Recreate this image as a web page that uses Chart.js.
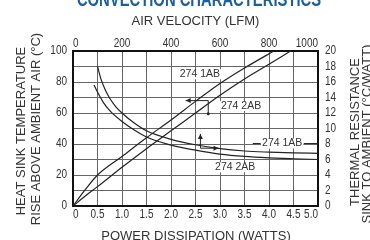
<!DOCTYPE html>
<html>
<head>
<meta charset="utf-8">
<script src="https://cdn.jsdelivr.net/npm/chart.js@4.4.0/dist/chart.umd.min.js"></script>
<style>
  html, body { margin: 0; padding: 0; background: #fff; }
  #wrap { width: 370px; height: 240px; position: relative; }
</style>
</head>
<body>
<div id="wrap"><canvas id="chart"></canvas></div>
<script>
// --- temperature rise vs power dissipation (bottom + left axes) ---
const power1AB = [0, 0.25, 0.5, 1.0, 1.5, 2.0, 2.5, 3.0, 3.5, 4.1];
const temp1AB = [0, 10.5, 20, 32, 44, 55.5, 67.5, 79, 89, 100];
const power2AB = [0, 0.25, 0.5, 1.0, 1.5, 2.0, 2.5, 3.0, 3.5, 4.0, 4.44];
const temp2AB = [0, 6.5, 12.5, 25, 37, 48.5, 60, 71.5, 82, 91.5, 100];

// --- thermal resistance vs air velocity (top + right axes) ---
const velocity1AB = [100, 115, 130, 150, 175, 200, 250, 300, 400, 500, 600, 700, 800, 900, 1000];
const resist1AB = [18, 16.3, 15.1, 13.9, 12.8, 12.0, 10.7, 9.7, 8.6, 7.9, 7.4, 7.1, 6.95, 6.85, 6.8];
const velocity2AB = [86, 100, 125, 150, 200, 250, 300, 400, 500, 600, 700, 800, 900, 1000];
const resist2AB = [15.6, 14.7, 13.3, 12.3, 10.9, 9.8, 8.9, 7.85, 7.2, 6.7, 6.4, 6.22, 6.1, 6.0];

// --- tick labels ---
const powerLabels = ["0", "0.5", "1.0", "1.5", "2.0", "2.5", "3.0", "3.5", "4.0", "4.5", "5.0"];
const velocityLabels = ["0", "200", "400", "600", "800", "1000"];
const tempLabels = ["0", "20", "40", "60", "80", "100"];
const resistLabels = ["0", "2", "4", "6", "8", "10", "12", "14", "16", "18", "20"];

const toXY = (xs, ys) => xs.map((x, i) => ({ x, y: ys[i] }));

const SANS = '"Liberation Sans", Arial, sans-serif';
const INK = "#222";
const TXT = "#333";
const SQUEEZE = 0.8; // the original uses a condensed face

// --- titles, tick labels, axis names and the in-plot annotations ---
const decorations = {
    id: "decorations",
    afterDatasetsDraw(chart) {
        const { ctx } = chart;
        const { x: xs, y: ys, x2: xt, y2: yr } = chart.scales;
        const px = (w) => xs.getPixelForValue(w);
        const py = (t) => ys.getPixelForValue(t);

        const narrow = (text, x, y, align, sx = SQUEEZE) => {
            ctx.save();
            ctx.translate(x, y);
            ctx.scale(sx, 1);
            ctx.textAlign = align;
            ctx.fillText(text, 0, 0);
            ctx.restore();
        };
        const vtext = (text, x, y) => {
            ctx.save();
            ctx.translate(x, y);
            ctx.rotate(-Math.PI / 2);
            ctx.textAlign = "center";
            ctx.textBaseline = "middle";
            ctx.fillText(text, 0, 0);
            ctx.restore();
        };
        const label = (text, x, y) => {
            ctx.font = `10.5px ${SANS}`;
            const w = ctx.measureText(text).width;
            ctx.fillStyle = "#fff";
            ctx.fillRect(x - w / 2 - 1, y - 5, w + 2, 10);
            ctx.fillStyle = TXT;
            ctx.textAlign = "center";
            ctx.textBaseline = "middle";
            ctx.fillText(text, x, y);
        };
        const line = (x1, y1, x2, y2) => {
            ctx.beginPath();
            ctx.moveTo(x1, y1);
            ctx.lineTo(x2, y2);
            ctx.stroke();
        };
        const head = (x, y, dir) => {
            const L = 5, H = 2.5;
            ctx.beginPath();
            if (dir === "l") { ctx.moveTo(x, y); ctx.lineTo(x + L, y - H); ctx.lineTo(x + L, y + H); }
            if (dir === "r") { ctx.moveTo(x, y); ctx.lineTo(x - L, y - H); ctx.lineTo(x - L, y + H); }
            if (dir === "u") { ctx.moveTo(x, y); ctx.lineTo(x - H, y + L); ctx.lineTo(x + H, y + L); }
            ctx.closePath();
            ctx.fill();
        };
        const edgeAlign = (i, n) => (i === 0 ? "left" : i === n - 1 ? "right" : "center");

        ctx.save();

        // tick labels
        ctx.fillStyle = TXT;
        ctx.font = `12.5px ${SANS}`;
        ctx.textBaseline = "middle";
        powerLabels.forEach((t, i) => narrow(t, xs.getPixelForValue(i * 0.5), 215, edgeAlign(i, powerLabels.length)));
        velocityLabels.forEach((t, i) => narrow(t, xt.getPixelForValue(i * 200), 43.5, edgeAlign(i, velocityLabels.length)));
        tempLabels.forEach((t, i) => narrow(t, xs.left - 6, ys.getPixelForValue(i * 20), "right"));
        resistLabels.forEach((t, i) => narrow(t, xs.right + 7, yr.getPixelForValue(i * 2), "left"));

        // main title (cut at the top edge)
        ctx.fillStyle = "#1b5e9e";
        ctx.font = `bold 20px ${SANS}`;
        ctx.textBaseline = "alphabetic";
        narrow("CONVECTION CHARACTERISTICS", 199, 6, "center", 0.74);

        // axis names
        ctx.fillStyle = TXT;
        ctx.font = `13px ${SANS}`;
        ctx.textAlign = "center";
        ctx.textBaseline = "middle";
        ctx.fillText("AIR VELOCITY (LFM)", 195.5, 21);
        ctx.textBaseline = "alphabetic";
        ctx.fillText("POWER DISSIPATION (WATTS)", 196, 239.5);
        vtext("HEAT SINK TEMPERATURE", 21, 131);
        vtext("RISE ABOVE AMBIENT AIR (°C)", 36.5, 129);
        vtext("THERMAL RESISTANCE", 355, 132);
        vtext("SINK TO AMBIENT (°C/WATT)", 367, 134);

        // curve labels
        label("274 1AB", px(2.59), py(85));
        label("274 2AB", px(3.43), py(64.5));
        label("274 2AB", px(3.31), py(25));
        label("274 1AB", px(4.27), py(40.3));

        ctx.strokeStyle = INK;
        ctx.fillStyle = INK;
        ctx.lineWidth = 1;

        // leader lines of the right label
        line(px(3.67), py(40.3), px(3.83), py(40.3));
        line(px(4.71), py(40.3), px(5.0), py(40.3));

        // arrow to left / bottom axes
        line(px(2.3), py(68), px(2.76), py(68));
        line(px(2.76), py(68), px(2.76), py(59.5));
        head(px(2.3), py(68), "l");
        ctx.beginPath();
        ctx.arc(px(2.76), py(59.5), 1.5, 0, Math.PI * 2);
        ctx.fill();

        // arrow to top / right axes
        line(px(2.6), py(37.3), px(2.6), py(46.5));
        line(px(2.6), py(37.3), px(2.97), py(37.3));
        head(px(2.6), py(46.5), "u");
        head(px(2.97), py(37.3), "r");

        ctx.restore();
    },
};

const lineStyle = {
    showLine: true,
    borderColor: INK,
    borderWidth: 1.2,
    pointRadius: 0,
    fill: false,
    cubicInterpolationMode: "monotone",
};

const hiddenTicks = { display: false };

new Chart(document.getElementById("chart"), {
    type: "scatter",
    data: {
        datasets: [
            { ...lineStyle, label: "274 1AB temp", data: toXY(power1AB, temp1AB), xAxisID: "x", yAxisID: "y" },
            { ...lineStyle, label: "274 2AB temp", data: toXY(power2AB, temp2AB), xAxisID: "x", yAxisID: "y" },
            { ...lineStyle, label: "274 1AB res", data: toXY(velocity1AB, resist1AB), xAxisID: "x2", yAxisID: "y2" },
            { ...lineStyle, label: "274 2AB res", data: toXY(velocity2AB, resist2AB), xAxisID: "x2", yAxisID: "y2" },
        ],
    },
    options: {
        responsive: true,
        maintainAspectRatio: false,
        animation: false,
        events: [],
        layout: { padding: 0 },
        plugins: {
            legend: { display: false },
            tooltip: { enabled: false },
        },
        scales: {
            x: {
                type: "linear",
                position: "bottom",
                min: 0,
                max: 5,
                ticks: { ...hiddenTicks, stepSize: 0.5 },
                grid: { color: "#666", lineWidth: 1, drawTicks: false },
                border: { color: "#111", width: 2 },
                afterFit: (s) => { s.height = 34; },
            },
            x2: {
                type: "linear",
                position: "top",
                min: 0,
                max: 1000,
                ticks: { ...hiddenTicks, stepSize: 200 },
                grid: { display: false, drawTicks: false },
                border: { color: "#111", width: 2 },
                afterFit: (s) => { s.height = 51; },
            },
            y: {
                type: "linear",
                position: "left",
                min: 0,
                max: 100,
                ticks: { ...hiddenTicks, stepSize: 10 },
                grid: { color: "#666", lineWidth: 1, drawTicks: false },
                border: { color: "#111", width: 2 },
                afterFit: (s) => { s.width = 73; },
            },
            y2: {
                type: "linear",
                position: "right",
                min: 0,
                max: 20,
                ticks: { ...hiddenTicks, stepSize: 2 },
                grid: { display: false, drawTicks: false },
                border: { color: "#111", width: 2 },
                afterFit: (s) => { s.width = 52; },
            },
        },
    },
    plugins: [decorations],
});
</script>
</body>
</html>
